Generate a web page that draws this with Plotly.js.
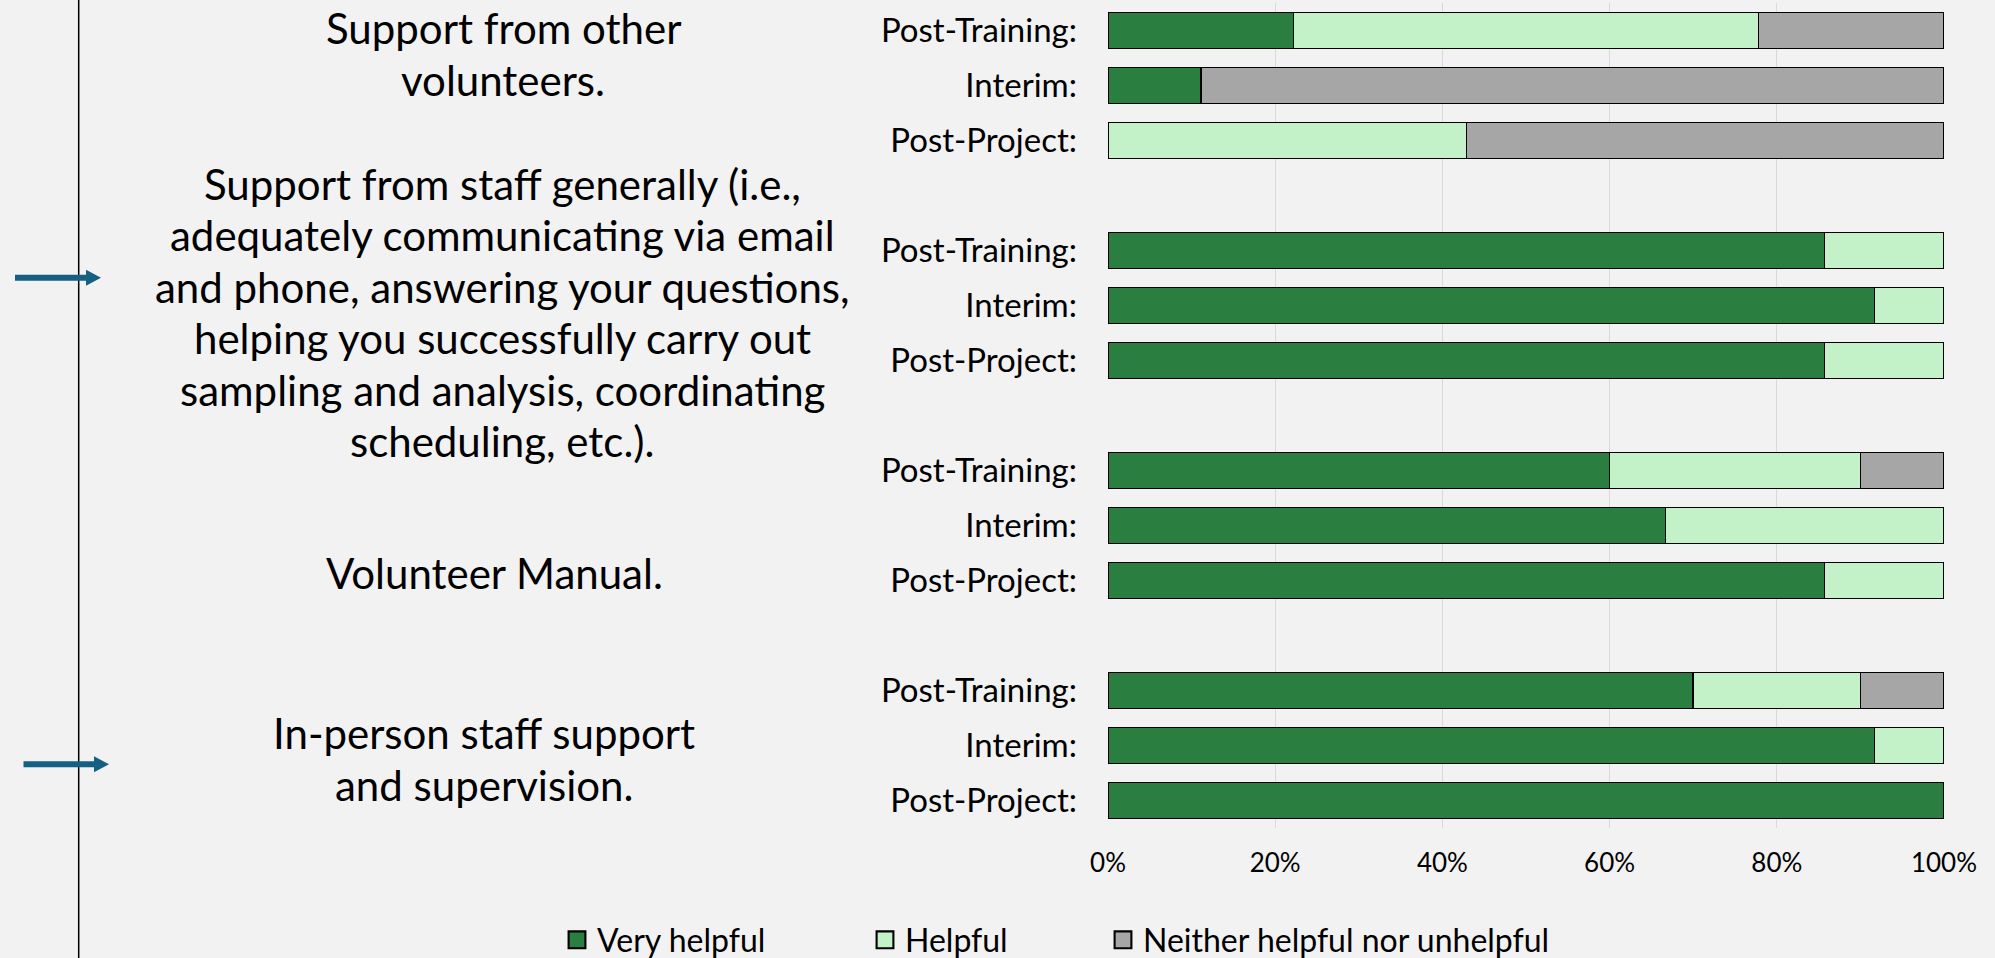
<!DOCTYPE html>
<html>
<head>
<meta charset="utf-8">
<script src="https://cdn.plot.ly/plotly-3.0.1.min.js"></script>
<style>
  html, body { margin: 0; padding: 0; background: #F2F2F2; overflow: hidden; }
  #chart { width: 1995px; height: 958px; }
</style>
</head>
<body>
<div id="chart"></div>
<script>
// ---------- data ----------
const groupLabels = [
  ["Support from other", "volunteers."],
  ["Support from staff generally (i.e.,", "adequately communicating via email", "and phone, answering your questions,",
   "helping you successfully carry out", "sampling and analysis, coordinating", "scheduling, etc.)."],
  ["Volunteer Manual."],
  ["In-person staff support", "and supervision."]
];
const waves = ["Post-Training:", "Interim:", "Post-Project:"];
const seriesNames = ["Very helpful", "Helpful", "Neither helpful nor unhelpful"];
// values in percent, rows ordered group by group, waves top to bottom
const veryHelpful = [22.2, 11.1, 0,    85.7, 91.7, 85.7,  60.0, 66.7, 85.7,  70.0, 91.7, 100];
const helpful     = [55.6, 0,    42.9, 14.3, 8.3,  14.3,  30.0, 33.3, 14.3,  20.0, 8.3,  0];
const neither     = [22.2, 88.9, 57.1, 0,    0,    0,     10.0, 0,    0,     10.0, 0,    0];
const xTicks = [0, 20, 40, 60, 80, 100];

// ---------- layout helpers ----------
const W = 1995, H = 958;
const M = {l: 1108, r: 51, t: 3, b: 130, autoexpand: false};
const PW = W - M.l - M.r, PH = H - M.t - M.b;
const px2x = p => (p - M.l) / PW;
const py2y = p => (H - M.b - p) / PH;

const colors = ["#2A7E3F", "#C3F1C8", "#A6A6A6"];
const seriesValues = [veryHelpful, helpful, neither];

// row positions: each group has 3 rows followed by an empty slot
const rowPos = [];
const rowText = [];
groupLabels.forEach((g, gi) => {
  waves.forEach((w, wi) => { rowPos.push(gi * (waves.length + 1) + wi); rowText.push(w); });
});

const legendTextX = [598, 906, 1144];
const traces = seriesNames.map((name, si) => ({
  type: "bar",
  orientation: "h",
  name: name,
  x: seriesValues[si].map(v => v === 0 ? null : v),
  y: rowPos,
  width: 0.66,
  marker: {color: colors[si], line: {color: "#000000", width: 1.5}},
  legend: si === 0 ? "legend" : "legend" + (si + 1),
  hoverinfo: "x+name"
}));

const legendCommon = {
  orientation: "h",
  yanchor: "middle",
  y: py2y(940),
  xanchor: "left",
  bgcolor: "rgba(0,0,0,0)",
  font: {family: "Lato, sans-serif", size: 32, color: "#000"},
  itemclick: false, itemdoubleclick: false
};

// label block centres (px) and line pitch
const groupCentre = [[503, 54.2], [502, 312.7], [494, 572.8], [484, 758.9]];
const linePitch = 51.5;
const annotations = [];
groupLabels.forEach((lines, gi) => {
  const [cx, cy] = groupCentre[gi];
  lines.forEach((t, li) => {
    const yc = cy + (li - (lines.length - 1) / 2) * linePitch;
    annotations.push({
      xref: "paper", yref: "paper",
      x: px2x(cx), y: py2y(yc),
      xanchor: "center", yanchor: "middle",
      text: t, showarrow: false, align: "center",
      font: {family: "Lato, sans-serif", size: 42, color: "#000"}
    });
  });
});

// left divider line and arrows
const arrowColor = "#156082";
function arrowShape(x0, x1, yc) {
  const headL = 15, headH = 8, shaft = 3;
  return {
    type: "path", xref: "paper", yref: "paper", line: {width: 0}, fillcolor: arrowColor,
    path: `M${px2x(x0)},${py2y(yc - shaft)} L${px2x(x1 - headL)},${py2y(yc - shaft)} L${px2x(x1 - headL)},${py2y(yc - headH)} L${px2x(x1)},${py2y(yc)} L${px2x(x1 - headL)},${py2y(yc + headH)} L${px2x(x1 - headL)},${py2y(yc + shaft)} L${px2x(x0)},${py2y(yc + shaft)} Z`
  };
}
const shapes = [
  {type: "line", xref: "paper", yref: "paper", x0: px2x(78.7), x1: px2x(78.7), y0: py2y(-2), y1: py2y(H + 2),
   line: {color: "#000", width: 1.5}},
  arrowShape(15, 101, 277.7),
  arrowShape(23.5, 109, 764.3)
];

const layout = {
  width: W, height: H,
  margin: M,
  paper_bgcolor: "#F2F2F2",
  plot_bgcolor: "#F2F2F2",
  barmode: "stack",
  showlegend: true,
  legend: Object.assign({}, legendCommon, {x: px2x(legendTextX[0] - 41)}),
  legend2: Object.assign({}, legendCommon, {x: px2x(legendTextX[1] - 41)}),
  legend3: Object.assign({}, legendCommon, {x: px2x(legendTextX[2] - 41)}),
  xaxis: {
    range: [0, 100], tickvals: xTicks, ticktext: xTicks.map(v => v + "%"),
    showgrid: true, gridcolor: "#D9D9D9", gridwidth: 1.3, zeroline: false,
    showline: false, ticks: "", ticklabelstandoff: 17,
    tickfont: {family: "Lato, sans-serif", size: 26, color: "#000"},
    fixedrange: true
  },
  yaxis: {
    range: [rowPos[rowPos.length - 1] + 0.5, -0.5],
    tickvals: rowPos, ticktext: rowText,
    showgrid: false, zeroline: false, showline: false, ticks: "",
    ticklabelstandoff: 30,
    tickfont: {family: "Lato, sans-serif", size: 33, color: "#000"},
    fixedrange: true
  },
  annotations: annotations,
  shapes: shapes,
  font: {family: "Lato, sans-serif", color: "#000"}
};

Plotly.newPlot("chart", traces, layout, {displayModeBar: false}).then(gd => {
  // enlarge the legend swatches to match the reference key size
  gd.querySelectorAll(".legendpoints path").forEach(p => {
    const t = p.getAttribute("transform") || "";
    p.setAttribute("transform", t + " scale(1.4)");
  });
});
</script>
</body>
</html>
